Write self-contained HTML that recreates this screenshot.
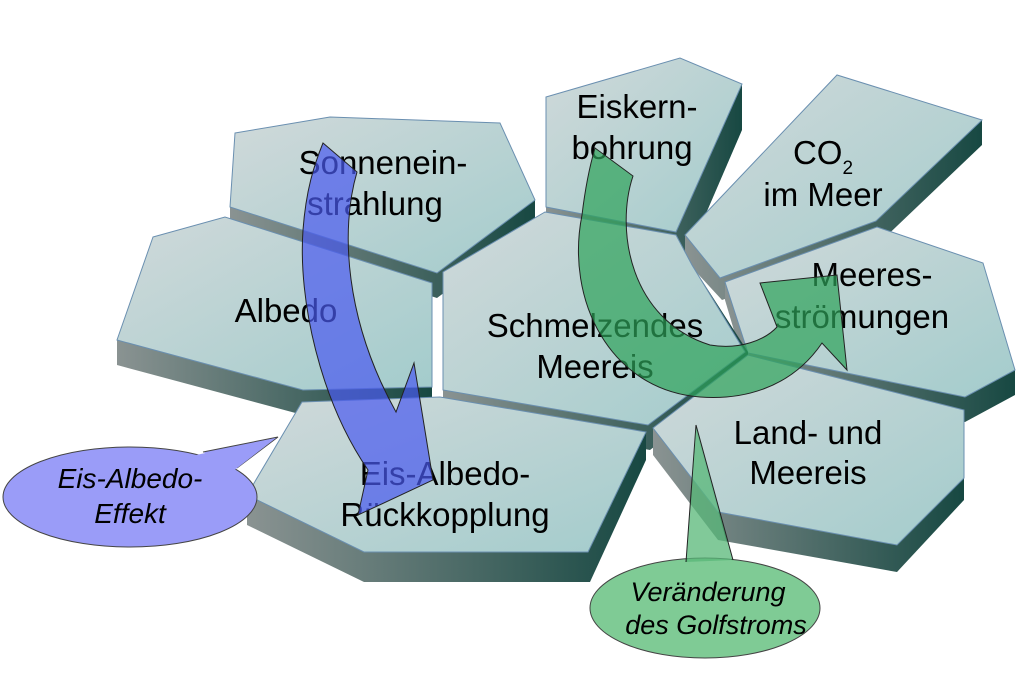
<!DOCTYPE html>
<html><head><meta charset="utf-8"><style>
html,body{margin:0;padding:0;background:#fff;}
svg{display:block;}
text{font-family:"Liberation Sans",sans-serif;fill:#000;}
</style></head><body>
<svg width="1024" height="674" viewBox="0 0 1024 674" xmlns="http://www.w3.org/2000/svg">
<defs>
<linearGradient id="top" x1="0" y1="0" x2="1" y2="1">
<stop offset="0" stop-color="#d0d9da"/><stop offset="1" stop-color="#a3cccc"/>
</linearGradient>
<linearGradient id="side" x1="0" y1="0" x2="1" y2="0">
<stop offset="0" stop-color="#8a9392"/><stop offset="1" stop-color="#174842"/>
</linearGradient>
</defs>
<g stroke="#6a8fb0" stroke-width="1">
<polygon points="235,133 330,117 500,123 535,200 535,225 437,298 230,232 230,207" fill="url(#side)" stroke="none"/>
<polygon points="235,133 330,117 500,123 535,200 437,273 230,207" fill="url(#top)"/>
<polygon points="546,97 680,58 742,84 742,130 686,260 546,230" fill="url(#side)" stroke="none"/>
<polygon points="546,97 680,58 742,84 676,232 546,207" fill="url(#top)"/>
<polygon points="685,235 837,75 982,120 982,145 876,246 722,300 685,260" fill="url(#side)" stroke="none"/>
<polygon points="685,235 837,75 982,120 876,221 720,278" fill="url(#top)"/>
<polygon points="153,237 225,217 432,283 432,410 303,415 117,365 117,340" fill="url(#side)" stroke="none"/>
<polygon points="153,237 225,217 432,283 432,387 303,390 117,340" fill="url(#top)"/>
<polygon points="725,282 877,227 983,263 1015,370 1015,395 965,422 748,378 725,300" fill="url(#side)" stroke="none"/>
<polygon points="725,282 877,227 983,263 1015,370 965,397 748,353" fill="url(#top)"/>
<polygon points="443,272 545,212 676,235 692,265 748,352 748,375 650,450 443,412" fill="url(#side)" stroke="none"/>
<polygon points="443,272 545,212 676,235 692,265 745,352 648,425 443,390" fill="url(#top)"/>
<polygon points="653,428 748,355 964,410 964,500 897,572 718,540 653,455" fill="url(#side)" stroke="none"/>
<polygon points="653,428 748,355 964,410 964,478 897,545 718,512" fill="url(#top)"/>
<polygon points="302,402 440,397 646,432 646,460 590,582 364,582 247,525 247,495" fill="url(#side)" stroke="none"/>
<polygon points="302,402 440,397 646,432 588,552 364,552 247,495" fill="url(#top)"/>
</g>
<g font-size="33" text-anchor="middle">
<text x="383" y="174">Sonnenein-</text>
<text x="375" y="215">strahlung</text>
<text x="637" y="118">Eiskern-</text>
<text x="632" y="159">bohrung</text>
<text x="823" y="164">CO<tspan font-size="19" dy="10">2</tspan></text>
<text x="823" y="206">im Meer</text>
<text x="286" y="322">Albedo</text>
<text x="595" y="337">Schmelzendes</text>
<text x="595" y="378">Meereis</text>
<text x="872" y="286">Meeres-</text>
<text x="862" y="328">strömungen</text>
<text x="808" y="444">Land- und</text>
<text x="808" y="484">Meereis</text>
<text x="445" y="485">Eis-Albedo-</text>
<text x="445" y="526">Rückkopplung</text>
</g>
<path d="M323,143 L357,172 C340,230 345,320 396,412 L414,363 L433,480 L358,515 L368,470 C320,400 298,300 303,230 C306,190 314,165 323,143 Z" fill="#4a5af0" fill-opacity="0.7" stroke="#222" stroke-width="1"/>
<path d="M595,148 L633,176 C615,230 630,320 710,345 C740,350 765,340 777,327 L760,283 L837,275 L847,370 L822,343 C790,390 740,400 700,397 C610,390 565,300 582,215 C585,190 590,165 595,148 Z" fill="#2ea35a" fill-opacity="0.7" stroke="#222" stroke-width="1"/>
<ellipse cx="130" cy="497" rx="127" ry="50" fill="#9a9cf8" stroke="#444" stroke-width="1"/>
<path d="M203,452 L278,437 L237,468" fill="#9a9cf8" stroke="#444" stroke-width="1"/>
<path d="M196,455 L276,438 L232,472 Z" fill="#9a9cf8"/>
<g font-size="28" font-style="italic" text-anchor="middle">
<text x="130" y="488">Eis-Albedo-</text>
<text x="130" y="523">Effekt</text>
</g>
<ellipse cx="705" cy="608" rx="115" ry="50" fill="#7fcb95" stroke="#444" stroke-width="1"/>
<path d="M686,562 L696,425 L733,560" fill="#2ea35a" fill-opacity="0.6" stroke="#222" stroke-width="1"/>
<path d="M687,564 L696,430 L732,562 Z" fill="#7fcb95" fill-opacity="0.4"/>
<g font-size="27" font-style="italic" text-anchor="middle">
<text x="708" y="601">Veränderung</text>
<text x="716" y="634">des Golfstroms</text>
</g>
</svg>
</body></html>
